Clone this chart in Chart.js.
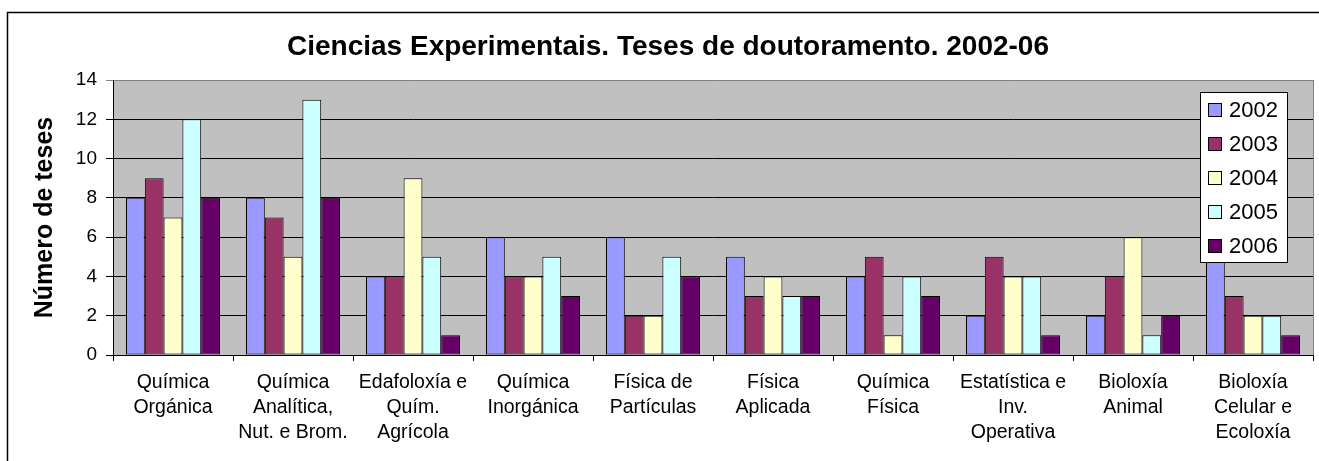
<!DOCTYPE html>
<html>
<head>
<meta charset="utf-8">
<script src="https://cdn.jsdelivr.net/npm/chart.js@4/dist/chart.umd.min.js"></script>
<style>
  html, body { margin: 0; padding: 0; background: #ffffff; }
  canvas { display: block; }
</style>
</head>
<body>
<canvas id="teses" width="1319" height="461"></canvas>
<script>
// Areas (multi-line category labels)
const categories = [
  ['Química', 'Orgánica'],
  ['Química', 'Analítica,', 'Nut. e Brom.'],
  ['Edafoloxía e', 'Quím.', 'Agrícola'],
  ['Química', 'Inorgánica'],
  ['Física de', 'Partículas'],
  ['Física', 'Aplicada'],
  ['Química', 'Física'],
  ['Estatística e', 'Inv.', 'Operativa'],
  ['Bioloxía', 'Animal'],
  ['Bioloxía', 'Celular e', 'Ecoloxía']
];

const years = ['2002', '2003', '2004', '2005', '2006'];

// Theses per area and year
const tesis2002 = [8, 8, 4, 6, 6, 5, 4, 2, 2, 6];
const tesis2003 = [9, 7, 4, 4, 2, 3, 5, 5, 4, 3];
const tesis2004 = [7, 5, 9, 4, 2, 4, 1, 4, 6, 2];
const tesis2005 = [12, 13, 5, 5, 5, 3, 4, 4, 1, 2];
const tesis2006 = [8, 8, 1, 3, 4, 3, 3, 1, 2, 1];

const yTicks = [0, 2, 4, 6, 8, 10, 12, 14];

const colours = ['#9999FF', '#993366', '#FFFFCC', '#CCFFFF', '#660066'];
const seriesValues = [tesis2002, tesis2003, tesis2004, tesis2005, tesis2006];

const FONT = "'Liberation Sans', Arial, sans-serif";

// Grey plot background and outer frame
const backdrop = {
  id: 'backdrop',
  beforeDraw(chart) {
    const { ctx, chartArea: a } = chart;
    ctx.save();
    ctx.fillStyle = '#ffffff';
    ctx.fillRect(0, 0, chart.width, chart.height);
    ctx.strokeStyle = '#000000';
    ctx.lineWidth = 1.5;
    ctx.strokeRect(7.5, 12.5, chart.width + 20, chart.height + 20);
    ctx.fillStyle = '#C0C0C0';
    ctx.fillRect(a.left, a.top, a.right - a.left, a.bottom - a.top);
    ctx.restore();
  },
  afterDatasetsDraw(chart) {
    const { ctx, chartArea: a } = chart;
    ctx.save();
    ctx.strokeStyle = '#808080';
    ctx.lineWidth = 1;
    ctx.beginPath();
    ctx.moveTo(Math.round(a.right) + 0.5, a.top);
    ctx.lineTo(Math.round(a.right) + 0.5, a.bottom);
    ctx.stroke();
    ctx.restore();
  }
};

// Boxed legend sitting over the top-right corner of the plot
const boxedLegend = {
  id: 'boxedLegend',
  afterDraw(chart) {
    const { ctx } = chart;
    const x = 1200, y = 92, w = 87, h = 170;
    ctx.save();
    ctx.fillStyle = '#ffffff';
    ctx.fillRect(x, y, w, h);
    ctx.strokeStyle = '#000000';
    ctx.lineWidth = 1;
    ctx.strokeRect(x + 0.5, y + 0.5, w, h);
    ctx.font = '22px ' + FONT;
    ctx.textBaseline = 'middle';
    chart.data.datasets.forEach((ds, i) => {
      const cy = 110 + i * 34;
      ctx.fillStyle = ds.backgroundColor;
      ctx.fillRect(1208, cy - 7, 14, 14);
      ctx.strokeStyle = '#000000';
      ctx.strokeRect(1208.5, cy - 6.5, 13, 13);
      ctx.fillStyle = '#000000';
      ctx.fillText(ds.label, 1229, cy + 1);
    });
    ctx.restore();
  }
};

new Chart(document.getElementById('teses'), {
  type: 'bar',
  data: {
    labels: categories,
    datasets: years.map((yr, i) => ({
      label: yr,
      data: seriesValues[i],
      backgroundColor: colours[i],
      borderColor: '#000000',
      borderWidth: 1,
      borderSkipped: false,
      categoryPercentage: 0.783,
      barPercentage: 1.0
    }))
  },
  options: {
    responsive: false,
    animation: false,
    layout: { padding: { left: 23, right: 6, top: 0, bottom: 0 } },
    plugins: {
      legend: { display: false },
      tooltip: { enabled: false },
      title: {
        display: true,
        text: 'Ciencias Experimentais. Teses de doutoramento. 2002-06',
        color: '#000000',
        font: { family: FONT, size: 28, weight: 'bold', lineHeight: 1.2 },
        padding: { top: 30.2, bottom: 16.2 }
      }
    },
    scales: {
      x: {
        offset: true,
        grid: {
          drawOnChartArea: false,
          drawTicks: true,
          tickLength: 6,
          color: '#000000',
          lineWidth: 1
        },
        border: { display: true, color: '#000000', width: 1 },
        ticks: {
          autoSkip: false,
          maxRotation: 0,
          minRotation: 0,
          padding: 9.6,
          color: '#000000',
          font: { family: FONT, size: 19.5, lineHeight: 1.27 }
        },
        afterFit(scale) { scale.height = 106; }
      },
      y: {
        min: 0,
        max: 14,
        afterBuildTicks(scale) { scale.ticks = yTicks.map(v => ({ value: v })); },
        grid: {
          drawTicks: true,
          tickLength: 7,
          color: ctx => (ctx.tick && ctx.tick.value === 14 ? '#808080' : '#000000'),
          lineWidth: 1
        },
        border: { display: true, color: '#000000', width: 1 },
        ticks: {
          padding: 9,
          color: '#000000',
          font: { family: FONT, size: 19 }
        },
        title: {
          display: true,
          text: 'Número de teses',
          color: '#000000',
          font: { family: FONT, size: 25, weight: 'bold', lineHeight: 1.2 },
          padding: { top: 7, bottom: 0 }
        },
        afterFit(scale) { scale.width = 90; }
      }
    }
  },
  plugins: [backdrop, boxedLegend]
});
</script>
</body>
</html>
